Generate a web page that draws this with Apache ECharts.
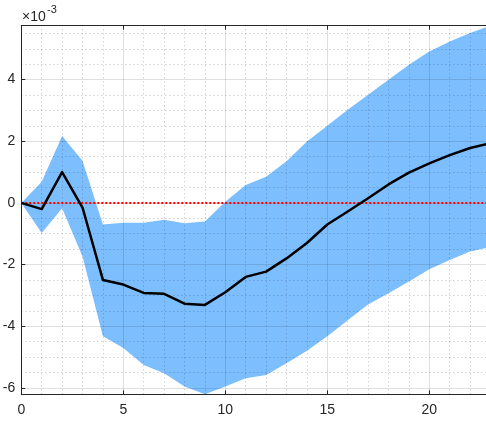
<!DOCTYPE html>
<html>
<head>
<meta charset="utf-8">
<script src="https://cdn.jsdelivr.net/npm/echarts@6/dist/echarts.min.js"></script>
<style>
html,body{margin:0;padding:0;background:#fff;}
#chart{width:486px;height:421px;}
</style>
</head>
<body>
<div id="chart"></div>
<script>
// Horizon (periods)
const periods = [0,1,2,3,4,5,6,7,8,9,10,11,12,13,14,15,16,17,18,19,20,21,22,23];
// Impulse response (units of 1e-3)
const response = [0,-0.2,1.0,-0.15,-2.5,-2.65,-2.92,-2.95,-3.27,-3.31,-2.9,-2.4,-2.23,-1.8,-1.3,-0.7,-0.28,0.15,0.6,0.98,1.28,1.55,1.78,1.94];
// Upper confidence bound (units of 1e-3)
const upperBand = [0,0.69,2.17,1.37,-0.7,-0.64,-0.64,-0.55,-0.66,-0.6,0.04,0.58,0.85,1.35,1.99,2.5,3.02,3.51,4.0,4.48,4.91,5.24,5.51,5.75];
// Lower confidence bound (units of 1e-3)
const lowerBand = [0,-0.98,-0.17,-1.74,-4.33,-4.71,-5.26,-5.53,-5.96,-6.21,-5.96,-5.69,-5.58,-5.2,-4.8,-4.33,-3.81,-3.3,-2.93,-2.55,-2.15,-1.85,-1.58,-1.43];
// Axis settings
const xRange = [0, 23];
const yRange = [-6.21, 5.75];
const xMajorTicks = [0,5,10,15,20];
const yMajorTicks = [-6,-4,-2,0,2,4];
const exponentLabel = '×10';
const exponentPower = '-3';

const axisColor = '#262626';
const bandColor = 'rgb(125,190,255)';

// grid line positions (major every 5 / 2, minor every 1 / 0.5)
const xMajorLines = xMajorTicks.filter(v => v > xRange[0]);
const xMinorLines = [];
for (let v = 1; v < xRange[1]; v++) if (v % 5 !== 0) xMinorLines.push(v);
const yMinorLines = [];
for (let k = Math.ceil(yRange[0] * 2); k <= Math.floor(yRange[1] * 2); k++) {
  const v = k / 2;
  if (!yMajorTicks.includes(v)) yMinorLines.push(v);
}
const yMajorLines = yMajorTicks.slice();

const chart = echarts.init(document.getElementById('chart'), null, {renderer: 'canvas'});

function isMultiple(v, step) {
  const r = v / step;
  return Math.abs(r - Math.round(r)) < 1e-9;
}

const option = {
  animation: false,
  backgroundColor: '#fff',
  grid: {left: 21.3, width: 469.2, top: 25.7, height: 368.6, show: false, containLabel: false, outerBoundsMode: 'none'},
  xAxis: [{
    type: 'value', min: xRange[0], max: xRange[1],
    axisLine: {show: true, onZero: false, lineStyle: {color: axisColor, width: 1}},
    axisTick: {show: true, inside: true, length: 4, lineStyle: {color: axisColor}},
    axisLabel: {color: axisColor, fontSize: 14, fontFamily: 'Liberation Sans, Arial, sans-serif', margin: 9,
      formatter: v => (isMultiple(v, 5) ? String(Math.round(v)) : '')},
    splitLine: {show: false}
  }, {
    type: 'value', min: xRange[0], max: xRange[1], position: 'top',
    axisLine: {show: true, onZero: false, lineStyle: {color: axisColor, width: 1}},
    axisTick: {show: true, inside: true, length: 4, lineStyle: {color: axisColor}},
    axisLabel: {show: false},
    splitLine: {show: false}
  }],
  yAxis: {
    type: 'value', min: yRange[0], max: yRange[1],
    axisLine: {show: true, onZero: false, lineStyle: {color: axisColor, width: 1}},
    axisTick: {show: true, inside: true, length: 4, lineStyle: {color: axisColor}},
    axisLabel: {color: axisColor, fontSize: 14, fontFamily: 'Liberation Sans, Arial, sans-serif', margin: 6,
      formatter: v => (isMultiple(v, 2) ? String(Math.round(v)) : '')},
    splitLine: {show: false}
  },
  graphic: [
    {type: 'text', left: 22, top: 10, style: {text: exponentLabel, fill: axisColor, font: '14px "Liberation Sans", Arial, sans-serif'}},
    {type: 'text', left: 47, top: 4, style: {text: exponentPower, fill: axisColor, font: '11px "Liberation Sans", Arial, sans-serif'}}
  ],
  series: [
    {
      name: 'band', type: 'custom', coordinateSystem: 'cartesian2d', z: 1, clip: true,
      data: [[0, 0]],
      renderItem: function (params, api) {
        const pts = [];
        for (let i = 0; i < periods.length; i++) pts.push(api.coord([periods[i], upperBand[i]]));
        for (let i = periods.length - 1; i >= 0; i--) pts.push(api.coord([periods[i], lowerBand[i]]));
        return {type: 'polygon', shape: {points: pts}, style: {fill: bandColor, stroke: null}};
      }
    },
    {
      name: 'gridlines', type: 'line', z: 3, data: [], silent: true,
      markLine: {
        silent: true, symbol: ['none', 'none'], label: {show: false}, animation: false,
        data: [
          ...xMinorLines.map(v => ({xAxis: v, lineStyle: {color: 'rgba(38,38,38,0.3)', width: 1, type: [1, 3]}})),
          ...yMinorLines.map(v => ({yAxis: v, lineStyle: {color: 'rgba(38,38,38,0.3)', width: 1, type: [1, 3]}})),
          ...xMajorLines.map(v => ({xAxis: v, lineStyle: {color: 'rgba(38,38,38,0.15)', width: 1, type: 'solid'}})),
          ...yMajorLines.map(v => ({yAxis: v, lineStyle: {color: 'rgba(38,38,38,0.15)', width: 1, type: 'solid'}}))
        ]
      }
    },
    {
      name: 'zero', type: 'line', z: 4, data: [], silent: true,
      markLine: {
        silent: true, symbol: ['none', 'none'], label: {show: false}, animation: false,
        data: [{yAxis: 0, lineStyle: {color: '#ff0000', width: 2, type: [2, 2]}}]
      }
    },
    {
      name: 'response', type: 'line', z: 5,
      data: periods.map((x, i) => [x, response[i]]),
      showSymbol: false, symbol: 'none',
      lineStyle: {color: '#000', width: 2.5, join: 'round'}
    }
  ]
};
chart.setOption(option);
</script>
</body>
</html>
